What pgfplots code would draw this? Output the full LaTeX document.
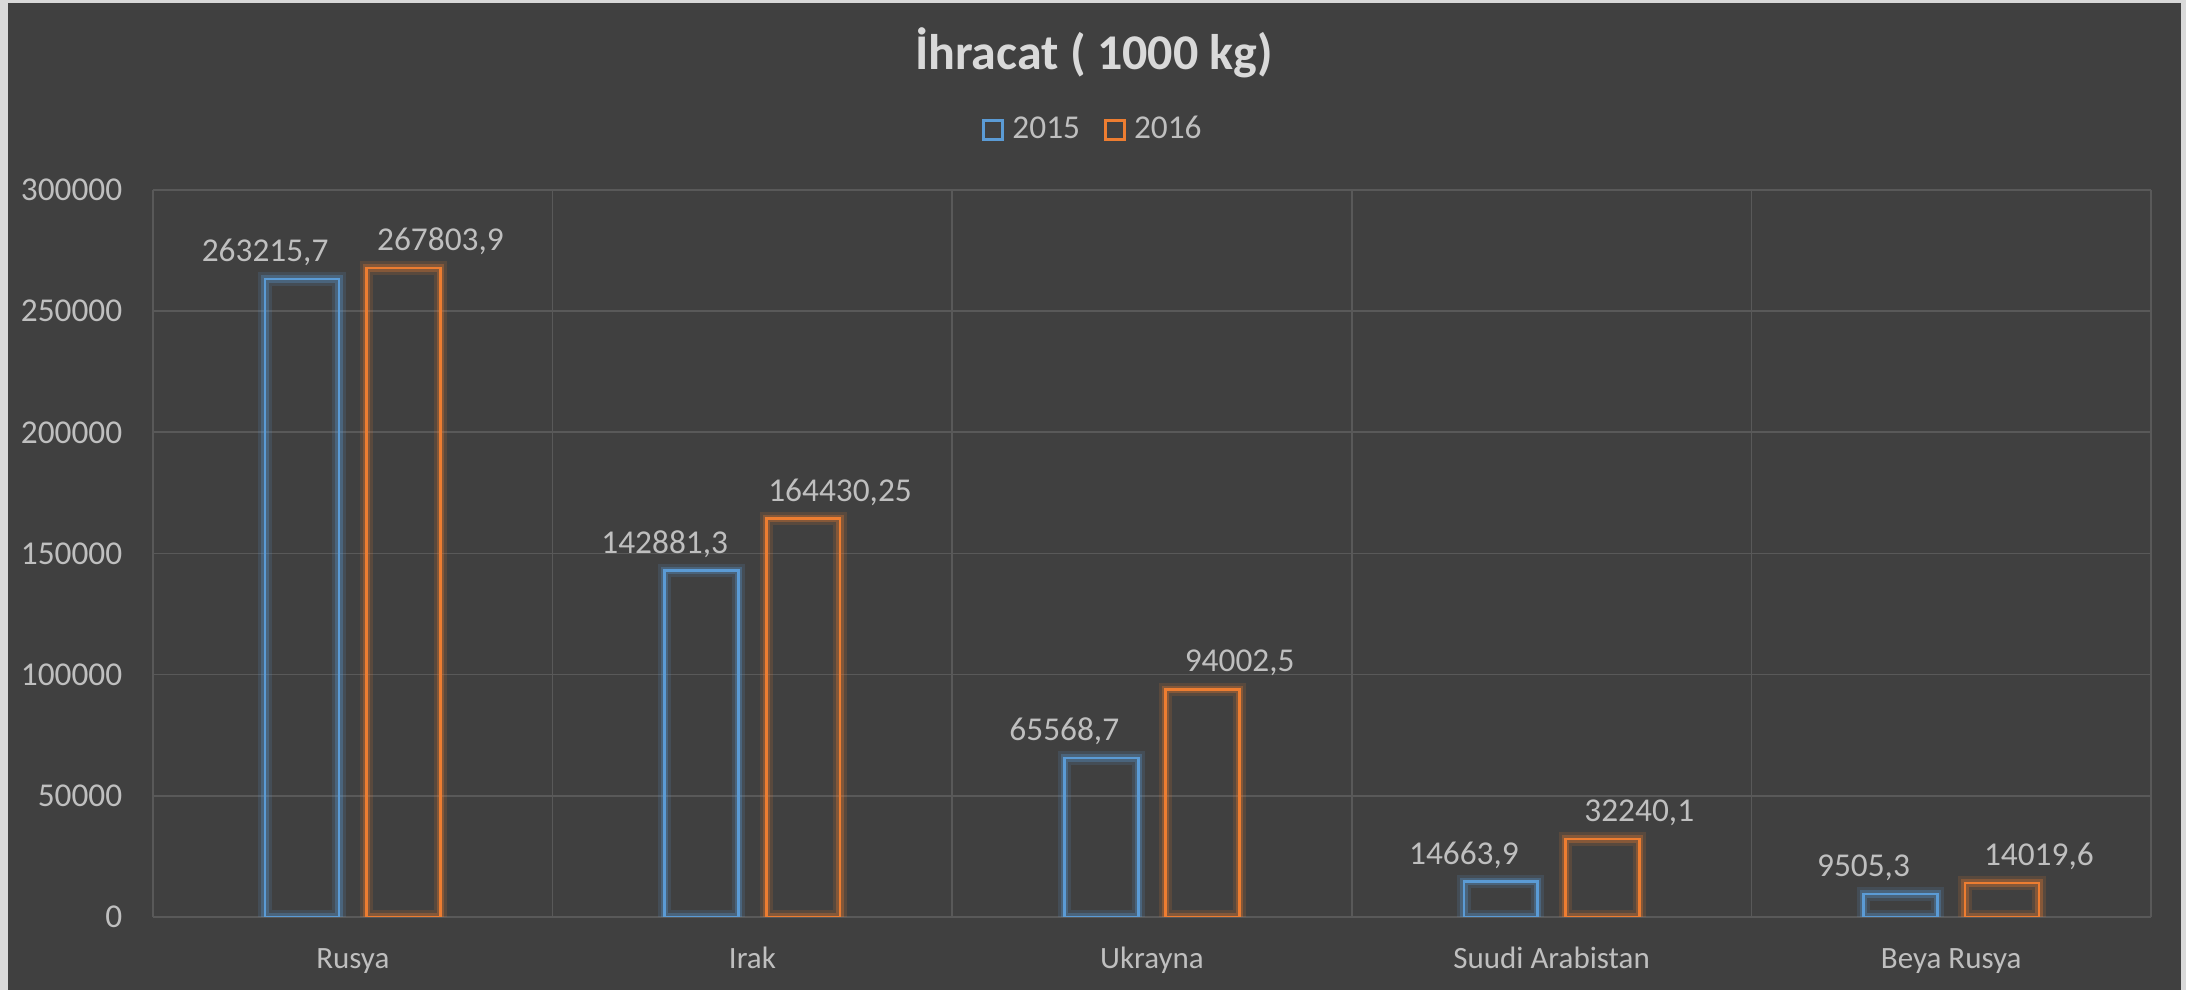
\documentclass[border=0pt]{standalone}
\usepackage{fontspec}
\setmainfont{Carlito}
\usepackage{pgfplots}
\usepackage{pgfplotstable}
\pgfplotsset{compat=1.18}
\definecolor{bg}{HTML}{404040}
\definecolor{frame}{HTML}{D9D9D9}
\definecolor{gridc}{HTML}{595959}
\definecolor{txt}{HTML}{BFBFBF}
\definecolor{ttl}{HTML}{D9D9D9}
\definecolor{cblue}{HTML}{5B9BD5}
\definecolor{corange}{HTML}{ED7D31}
\pgfplotstableread{
x a la b lb
0 263215.7 263215,7 267803.9 267803,9
1 142881.3 142881,3 164430.25 164430,25
2 65568.7 65568,7 94002.5 94002,5
3 14663.9 14663,9 32240.1 32240,1
4 9505.3 9505,3 14019.6 14019,6
}\data
\begin{document}
\begin{tikzpicture}
\fill[frame] (0,0) rectangle (655.8pt,297pt);
\fill[bg] (2.4pt,0) rectangle (654.2pt,296.1pt);
\node[font=\bfseries\fontsize{15}{18}\selectfont, text=ttl, anchor=base] at (328.2pt,276pt) {İhracat ( 1000 kg)};
\begin{axis}[
  at={(45.9pt,21.9pt)}, anchor=south west,
  scale only axis, width=599.4pt, height=218.1pt,
  xmin=-0.5, xmax=4.5, ymin=0, ymax=300000,
  ytick={0,50000,...,300000},
  xtick={0,1,2,3,4},
  xticklabels={Rusya,Irak,Ukrayna,Suudi Arabistan,Beya Rusya},
  minor xtick={-0.5,0.5,1.5,2.5,3.5,4.5},
  xminorgrids, ymajorgrids,
  major grid style={gridc, line width=0.5pt},
  minor grid style={gridc, line width=0.5pt},
  axis line style={draw=none},
  tick style={draw=none},
  scaled y ticks=false,
  /pgf/number format/assume math mode=true,
  yticklabel style={/pgf/number format/fixed, /pgf/number format/1000 sep={}, text=txt, font=\fontsize{10}{12}\selectfont, xshift=-5.7pt},
  xticklabel style={text=txt, font=\fontsize{9.3}{11}\selectfont, anchor=base, yshift=-15.5pt},
  legend columns=-1,
  legend style={at={(0.471,1.0825)}, anchor=center, draw=none, fill=none, text=txt, font=\fontsize{10}{12}\selectfont,
    nodes={inner sep=1.2pt}, /tikz/column 2/.style={column sep=6pt}},
  legend image code/.code={\draw[#1, fill=none, line width=0.8pt] (0pt,-2.85pt) rectangle (5.7pt,2.85pt); \path[draw=none] (0pt,0pt) -- (7.4pt,0pt);},
  point meta=explicit symbolic,
]
% glow
\addplot[ybar, bar width=0.185, bar shift=-0.127, draw=cblue, draw opacity=0.15, line width=4pt, fill=none, forget plot] table[x=x,y=a] {\data};
\addplot[ybar, bar width=0.185, bar shift=0.127, draw=corange, draw opacity=0.15, line width=4pt, fill=none, forget plot] table[x=x,y=b] {\data};
\addplot[ybar, bar width=0.185, bar shift=-0.127, draw=cblue, draw opacity=0.3, line width=2.2pt, fill=none, forget plot] table[x=x,y=a] {\data};
\addplot[ybar, bar width=0.185, bar shift=0.127, draw=corange, draw opacity=0.3, line width=2.2pt, fill=none, forget plot] table[x=x,y=b] {\data};
% bars
\addplot[ybar, bar width=0.185, bar shift=-0.127, draw=cblue, line width=0.8pt, fill=none,
  nodes near coords={\makebox[0pt]{\pgfplotspointmeta\hspace*{52.6pt}}},
  every node near coord/.append style={text=txt, font=\fontsize{10}{12}\selectfont, anchor=base, yshift=5.2pt}]
  table[x=x,y=a,meta=la] {\data};
\addlegendentry{2015}
\addplot[ybar, bar width=0.185, bar shift=0.127, draw=corange, line width=0.8pt, fill=none,
  nodes near coords={\makebox[0pt]{\hspace*{52.6pt}\pgfplotspointmeta}},
  every node near coord/.append style={text=txt, font=\fontsize{10}{12}\selectfont, anchor=base, yshift=5.2pt}]
  table[x=x,y=b,meta=lb] {\data};
\addlegendentry{2016}
\end{axis}
\end{tikzpicture}
\end{document}
